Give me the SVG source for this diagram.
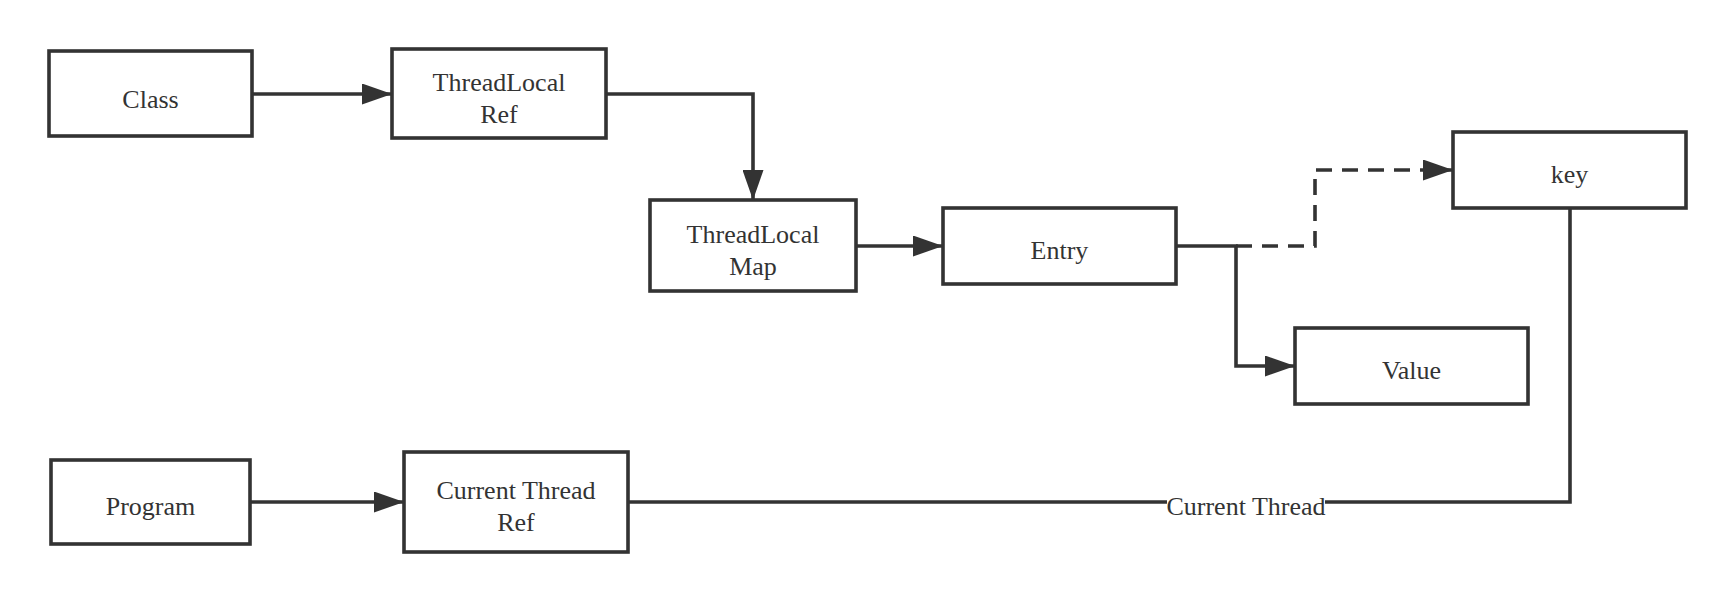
<svg xmlns="http://www.w3.org/2000/svg" width="1736" height="602" viewBox="0 0 1736 602">
<style>
.box{fill:#fff;stroke:#333;stroke-width:3.6}
.lbl{font-family:"Liberation Serif","Times New Roman",serif;font-size:26px;fill:#333;text-anchor:middle}
.ln{fill:none;stroke:#333;stroke-width:3.6}
.dash{stroke-dasharray:16 10}
</style>
<defs>
<marker id="arr" markerUnits="userSpaceOnUse" markerWidth="30" markerHeight="21" refX="30" refY="10.5" orient="auto">
<path d="M0,0 L30,10.5 L0,21 Z" fill="#333"/>
</marker>
</defs>
<rect width="1736" height="602" fill="#fff"/>
<g id="connectors">
<path class="ln" d="M252,94 H392" marker-end="url(#arr)"/>
<path class="ln" d="M606,94 H753 V200" marker-end="url(#arr)"/>
<path class="ln" d="M856,246 H943" marker-end="url(#arr)"/>
<path class="ln dash" d="M1236,246 H1315 V170 H1453" marker-end="url(#arr)"/>
<path class="ln" d="M1176,246 H1236 V366 H1295" marker-end="url(#arr)"/>
<path class="ln" d="M250,502 H404" marker-end="url(#arr)"/>
<path class="ln" d="M1570,208 V502 H628"/>
<rect x="1167" y="488" width="158" height="32" fill="#fff"/>
<text class="lbl" x="1246" y="514.5">Current Thread</text>
</g>
<g id="class"><rect class="box" x="49" y="51" width="203" height="85"/><text class="lbl" x="150.5" y="107.5">Class</text></g>
<g id="threadlocal-ref"><rect class="box" x="392" y="49" width="214" height="89"/><text class="lbl" x="499" y="90.5">ThreadLocal</text><text class="lbl" x="499" y="123">Ref</text></g>
<g id="threadlocal-map"><rect class="box" x="650" y="200" width="206" height="91"/><text class="lbl" x="753" y="243">ThreadLocal</text><text class="lbl" x="753" y="274.5">Map</text></g>
<g id="entry"><rect class="box" x="943" y="208" width="233" height="76"/><text class="lbl" x="1059.5" y="258.5">Entry</text></g>
<g id="key"><rect class="box" x="1453" y="132" width="233" height="76"/><text class="lbl" x="1569.5" y="183">key</text></g>
<g id="value"><rect class="box" x="1295" y="328" width="233" height="76"/><text class="lbl" x="1411.5" y="378.5">Value</text></g>
<g id="program"><rect class="box" x="51" y="460" width="199" height="84"/><text class="lbl" x="150.5" y="514.5">Program</text></g>
<g id="current-thread-ref"><rect class="box" x="404" y="452" width="224" height="100"/><text class="lbl" x="516" y="498.5">Current Thread</text><text class="lbl" x="516" y="530.5">Ref</text></g>
</svg>
